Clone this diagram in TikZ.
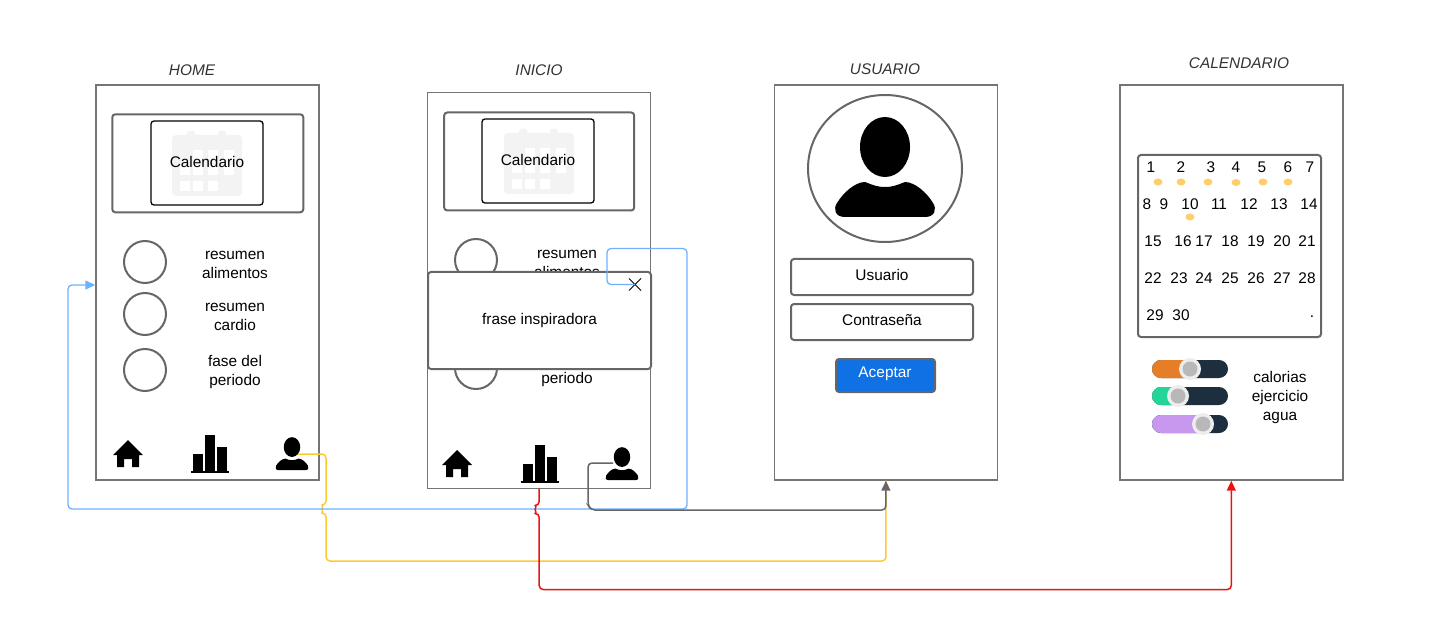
\documentclass[tikz,border=0pt]{standalone}
\usepackage{xcolor}
\usepackage{fontspec}
\setmainfont{Liberation Sans}
\usetikzlibrary{positioning,arrows.meta,shapes.misc,shapes.geometric}
\definecolor{frameGray}{HTML}{666666}
\definecolor{screenGray}{HTML}{757575}
\definecolor{iconGray}{HTML}{F3F3F3}
\definecolor{lineBlue}{HTML}{6DB1FF}
\definecolor{lineYellow}{HTML}{FFC933}
\definecolor{lineRed}{HTML}{E81313}
\definecolor{btnBlue}{HTML}{1071E5}
\definecolor{dotYellow}{HTML}{FFCE6B}
\definecolor{sliderDark}{HTML}{1D2F3F}
\definecolor{sliderOrange}{HTML}{E67E28}
\definecolor{sliderGreen}{HTML}{22D69A}
\definecolor{sliderPurple}{HTML}{C798EE}
\tikzset{
  txt/.style={font=\fontsize{15.4}{19}\selectfont, align=center, inner sep=0pt},
  screen/.style={draw=screenGray, line width=1.4pt, minimum width=223pt, minimum height=395pt, inner sep=0pt},
  title/.style={txt, text=black!80, font=\fontsize{15.4}{19}\selectfont\itshape},
  panel/.style={txt, draw=frameGray, line width=2pt, rounded corners=3pt, fill=white},
  inner/.style={txt, draw=black, line width=1.3pt, rounded corners=3pt},
  bubble/.style={circle, draw=frameGray, line width=2pt, minimum size=42pt, inner sep=0pt},
  iconbox/.style={minimum width=34pt, minimum height=34pt, inner sep=0pt},
  link/.style={rounded corners=4pt, line width=1.5pt},
  tip/.style={-{Triangle[length=10pt,width=9pt]}},
  daynum/.style={txt},
  usericon/.pic={
    \fill[black] (0,-21) ellipse [x radius=25, y radius=30];
    \fill[black] (-40,49) .. controls (-50,49) and (-52,41) .. (-48,35)
      .. controls (-42,25) and (-30,14) .. (-20,14)
      .. controls (-12,17) and (-8,19) .. (0,19)
      .. controls (8,19) and (12,17) .. (20,14)
      .. controls (30,14) and (42,25) .. (48,35)
      .. controls (52,41) and (50,49) .. (40,49) -- cycle;
  },
  homeicon/.pic={
    \fill[black] (0,-14) -- (15,1) -- (11,1) -- (11,13) -- (4,13) -- (4,5) -- (-4,5) -- (-4,13) -- (-11,13) -- (-11,1) -- (-15,1) -- cycle;
  },
  barsicon/.pic={
    \fill[black] (-18,17) rectangle (20,19);
    \fill[black] (-16,0) rectangle (-6,17);
    \fill[black] (-4,-19) rectangle (6,17);
    \fill[black] (8,-7) rectangle (18,17);
  },
  calicon/.pic={
    \fill[iconGray, rounded corners=4pt] (-35,-28) rectangle (35,33);
    \fill[iconGray, rounded corners=2pt] (-20,-32) rectangle (-12,-20);
    \fill[iconGray, rounded corners=2pt] (11,-32) rectangle (19,-20);
    \foreach \cx/\cy in {-14/-13,1/-13,17/-13,-27/2,-14/2,1/2,17/2,-27/18,-14/18,1/18}
      \fill[white] (\cx,\cy) rectangle ++(10,10);
  },
}
\begin{document}
\begin{tikzpicture}[x=1pt, y=-1pt]
  \useasboundingbox (0,0) rectangle (1429,620);

  \node[screen] (home) at (207.5,282.5) {};
  \node[screen, line width=1pt, right=107.5pt of home, yshift=-8pt] (inicio) {};
  \node[screen, right=122.5pt of inicio, yshift=8pt] (usuario) {};
  \node[screen, right=121pt of usuario] (calendario) {};

  \node[title] (tHome) at (192,70) {HOME};
  \node[title] (tInicio) at (539,70) {INICIO};
  \node[title] (tUsuario) at (885,69) {USUARIO};
  \node[title] (tCalendario) at (1239,63) {CALENDARIO};

  \node[panel, minimum width=191pt, minimum height=98pt, below right=29pt and 16pt of home.north west] (panelHome) {};
  \pic at (207,163) {calicon};
  \node[inner, minimum width=112pt, minimum height=84pt] (calHome) at (207,163) {\raisebox{2pt}{Calendario}};
  \node[bubble] (c1Home) at (145,262) {};
  \node[bubble, below=8pt of c1Home] (c2Home) {};
  \node[bubble, below=12pt of c2Home] (c3Home) {};
  \node[txt] (l1Home) at (235,265) {resumen\\alimentos};
  \node[txt] (l2Home) at (235,316.5) {resumen\\cardio};
  \node[txt] (l3Home) at (235,372) {fase del\\periodo};
  \node[iconbox] (casaHome) at (128,454) {};
  \node[iconbox] (barsHome) at (209,454) {};
  \node[iconbox] (userHome) at (292,454) {};
  \pic at (casaHome) {homeicon};
  \pic at (barsHome) {barsicon};
  \pic[scale=0.33] at (userHome) {usericon};

  \node[panel, minimum width=190pt, minimum height=98pt, below right=19pt and 16pt of inicio.north west] (panelInicio) {};
  \pic at (539,161) {calicon};
  \node[inner, minimum width=112pt, minimum height=84pt] (calInicio) at (538,161) {\raisebox{2pt}{Calendario}};
  \node[bubble] (c1Inicio) at (476,260) {};
  \node[bubble] (c3Inicio) at (476,368) {};
  \node[txt] (l1Inicio) at (567,263.5) {resumen\\alimentos};
  \node[txt] (l3Inicio) at (567,380) {periodo};
  \node[panel, minimum width=223pt, minimum height=97pt] (frase) at (539.5,320.5) {frase inspiradora};
  \node[draw=black, cross out, line width=1pt, minimum size=11pt, inner sep=0pt] (cerrar) at (635,284.5) {};
  \node[iconbox] (casaInicio) at (457,464) {};
  \node[iconbox] (barsInicio) at (539,464) {};
  \node[iconbox] (userInicio) at (622,464) {};
  \pic at (casaInicio) {homeicon};
  \pic at (barsInicio) {barsicon};
  \pic[scale=0.33] at (userInicio) {usericon};

  \node[ellipse, draw=frameGray, line width=2pt, minimum width=154pt, minimum height=147pt, inner sep=0pt] (avatar) at (885,168.5) {};
  \pic at (885,168) {usericon};
  \node[panel, minimum width=182pt, minimum height=36pt] (campoUsuario) at (882,277) {};
  \node[txt] at (882,275) {Usuario};
  \node[panel, minimum width=182pt, minimum height=36pt, below=7pt of campoUsuario] (campoClave) {};
  \node[txt] at (882,320) {Contraseña};
  \node[panel, fill=btnBlue, minimum width=99pt, minimum height=33pt] (aceptar) at (885.5,375.5) {};
  \node[txt, text=white] at (885,373.5) {Aceptar};

  \node[panel, minimum width=183pt, minimum height=182pt] (mes) at (1229.5,246) {};
  \foreach \n/\px/\py in {1/1151/167,2/1181/167,3/1211/167,4/1236/167,5/1262/167,6/1288/167,7/1310/167,
    8/1147/204,9/1164/204,10/1190/204,11/1219/204,12/1249/204,13/1279/204,14/1309/204,
    15/1153/241,16/1183/241,17/1204/241,18/1230/241,19/1256/241,20/1282/241,21/1307/241,
    22/1153/278,23/1179/278,24/1204/278,25/1230/278,26/1256/278,27/1282/278,28/1307/278,
    29/1155/315,30/1181/315}
    \node[daynum] (d\n) at (\px,\py) {\n};
  \node[daynum] (fin) at (1312,317) {.};
  \foreach \dx/\dy in {1158/182,1181/182,1208/182,1236/182.5,1263/182,1288/182,1190/217}
    \fill[dotYellow] (\dx,\dy) ellipse [x radius=4.5, y radius=3.5];

  \foreach \sy/\kx/\sc in {369/1190/sliderOrange,396/1178/sliderGreen,424/1203/sliderPurple} {
    \fill[sliderDark, rounded corners=9pt] (1152,\sy-9) rectangle (1228,\sy+9);
    \fill[\sc, rounded corners=9pt] (1152,\sy-9) rectangle (\kx+8,\sy+9);
    \fill[black!7] (\kx,\sy) circle [radius=11pt];
    \fill[black!28] (\kx,\sy) circle [radius=7.5pt];
  }
  \node[txt] (ajustes) at (1280,398) {calorias\\ejercicio\\agua};

  \coordinate[xshift=6pt] (salidaHome) at (userHome.center);
  \coordinate[xshift=-9pt, yshift=1pt] (salidaInicio) at (userInicio.center);

  \draw[link, lineYellow] (salidaHome) -- ++(28,0) -- ++(0,51) arc[start angle=90, end angle=270, radius=4pt] -- ++(0,48) -| (usuario.south);
  \draw[link, lineBlue, line width=1.3pt, tip] (cerrar.center) -- ++(-28,0) -- ++(0,-36) -- ++(80,0) -- ++(0,260.5) -- ++(-619,0) |- ([yshift=-2.5pt]home.west);
  \draw[link, lineRed, tip] (inicio.south) -- ++(0,17) arc[start angle=90, end angle=270, radius=4pt] -- ++(0,76) -| (calendario.south);
  \draw[link, frameGray, tip] (salidaInicio) -- ++(-25,0) -- ++(0,42) -- ++(3,5) -| (usuario.south);
\end{tikzpicture}
\end{document}
